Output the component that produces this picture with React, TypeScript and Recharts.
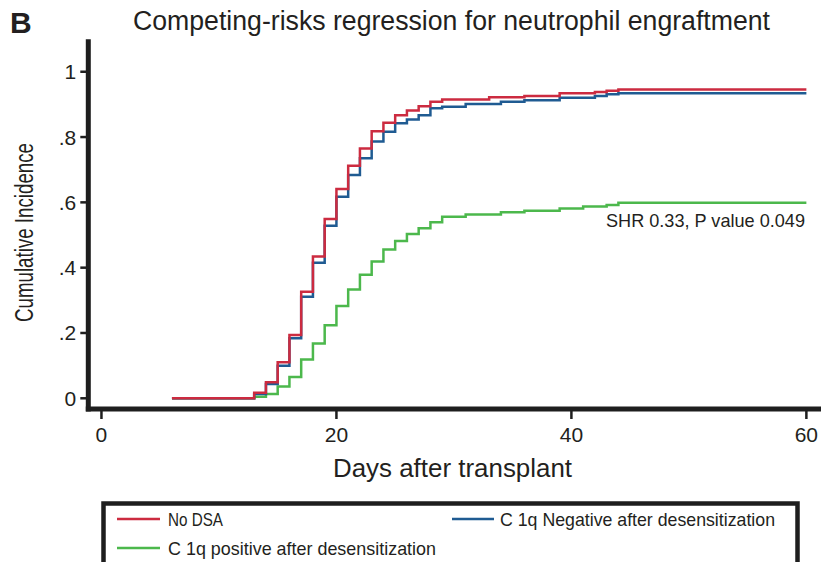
import React from 'react';
import { LineChart, Line, XAxis, YAxis } from 'recharts';

const days = [6, 13, 14, 15, 16, 17, 18, 19, 20, 21, 22, 23, 24, 25, 26, 27, 28, 29, 31, 33, 34, 36, 39, 41, 42, 43, 44, 60];
const noDsa = [0, 0.017, 0.049, 0.11, 0.194, 0.326, 0.434, 0.549, 0.641, 0.712, 0.765, 0.818, 0.844, 0.867, 0.881, 0.894, 0.908, 0.915, 0.915, 0.922, 0.922, 0.926, 0.934, 0.934, 0.938, 0.942, 0.946, 0.946];
const c1qNegative = [0, 0.013, 0.044, 0.1, 0.184, 0.311, 0.415, 0.528, 0.617, 0.684, 0.735, 0.786, 0.816, 0.842, 0.854, 0.867, 0.888, 0.893, 0.901, 0.901, 0.908, 0.913, 0.92, 0.92, 0.926, 0.931, 0.934, 0.934];
const c1qPositive = [0, 0.005, 0.013, 0.036, 0.065, 0.119, 0.168, 0.224, 0.283, 0.333, 0.378, 0.419, 0.456, 0.482, 0.503, 0.521, 0.539, 0.556, 0.563, 0.563, 0.57, 0.574, 0.581, 0.587, 0.587, 0.592, 0.599, 0.599];

const xTicks = [0, 20, 40, 60];
const yTicks = [0, 0.2, 0.4, 0.6, 0.8, 1];
const yTickLabels = ['0', '.2', '.4', '.6', '.8', '1'];

const seriesNames = ['No DSA', 'C 1q Negative after desensitization', 'C 1q positive after desensitization'];
const seriesKeys = ['noDsa', 'c1qNegative', 'c1qPositive'];
const seriesColors = ['#cc2b40', '#1f5b92', '#4cb84c'];

const data = days.map((d, i) => ({
  day: d,
  noDsa: noDsa[i],
  c1qNegative: c1qNegative[i],
  c1qPositive: c1qPositive[i],
}));

const FONT = '"Liberation Sans", Arial, Helvetica, sans-serif';
const INK = '#231f20';
const AXIS = '#1e1e1e';

export default function App() {
  return (
    <div style={{ position: 'absolute', left: 0, top: 0, width: 821, height: 562, background: '#fff', overflow: 'hidden' }}>
      <LineChart
        width={821}
        height={562}
        data={data}
        margin={{ top: 41.7, right: 1.7, bottom: 123, left: 28.3 }}
      >
        <XAxis
          dataKey="day"
          type="number"
          domain={[-1.12, 61.1]}
          allowDataOverflow
          ticks={xTicks}
          height={30}
          tickSize={10}
          tickMargin={8}
          axisLine={{ stroke: AXIS, strokeWidth: 5, strokeLinecap: 'square' }}
          tickLine={{ stroke: AXIS, strokeWidth: 2.5 }}
          tick={{ fontSize: 21, fill: INK, fontFamily: FONT }}
          interval={0}
        />
        <YAxis
          type="number"
          domain={[-0.0328, 1.092]}
          allowDataOverflow
          ticks={yTicks}
          width={60}
          tickSize={8}
          tickMargin={4}
          tickFormatter={(v: number) => yTickLabels[yTicks.findIndex((t) => Math.abs(t - v) < 1e-6)] ?? String(v)}
          axisLine={{ stroke: AXIS, strokeWidth: 5, strokeLinecap: 'square' }}
          tickLine={{ stroke: AXIS, strokeWidth: 2.5 }}
          tick={{ fontSize: 21, fill: INK, fontFamily: FONT }}
          interval={0}
        />
        {[2, 1, 0].map((i) => (
          <Line
            key={seriesKeys[i]}
            dataKey={seriesKeys[i]}
            name={seriesNames[i]}
            type="stepAfter"
            stroke={seriesColors[i]}
            strokeWidth={2.5}
            dot={false}
            activeDot={false}
            isAnimationActive={false}
          />
        ))}
      </LineChart>
      <svg
        width={821}
        height={562}
        style={{ position: 'absolute', left: 0, top: 0, pointerEvents: 'none' }}
        fontFamily={FONT}
      >
        <text x={10} y={33} fontSize={30} fontWeight="bold" fill={INK}>B</text>
        <text x={133} y={30} fontSize={27} fill={INK} textLength={637} lengthAdjust="spacingAndGlyphs">
          Competing-risks regression for neutrophil engraftment
        </text>
        <text
          transform="translate(33,232.5) rotate(-90)"
          textAnchor="middle"
          fontSize={25}
          fill={INK}
          textLength={179}
          lengthAdjust="spacingAndGlyphs"
        >
          Cumulative Incidence
        </text>
        <text x={333} y={477} fontSize={26} fill={INK} textLength={239} lengthAdjust="spacingAndGlyphs">
          Days after transplant
        </text>
        <text x={606} y={227} fontSize={19} fill={INK} textLength={199} lengthAdjust="spacingAndGlyphs">
          SHR 0.33, P value 0.049
        </text>
        <rect x={103.5} y={503.5} width={694} height={100} fill="none" stroke={AXIS} strokeWidth={4.5} />
        <line x1={117} x2={160} y1={519} y2={519} stroke={seriesColors[0]} strokeWidth={2.5} />
        <text x={168} y={526} fontSize={19} fill={INK} textLength={55} lengthAdjust="spacingAndGlyphs">{seriesNames[0]}</text>
        <line x1={452} x2={494} y1={519} y2={519} stroke={seriesColors[1]} strokeWidth={2.5} />
        <text x={500} y={526} fontSize={19} fill={INK} textLength={275} lengthAdjust="spacingAndGlyphs">{seriesNames[1]}</text>
        <line x1={117} x2={160} y1={548} y2={548} stroke={seriesColors[2]} strokeWidth={2.5} />
        <text x={168} y={555} fontSize={19} fill={INK} textLength={268} lengthAdjust="spacingAndGlyphs">{seriesNames[2]}</text>
      </svg>
    </div>
  );
}
